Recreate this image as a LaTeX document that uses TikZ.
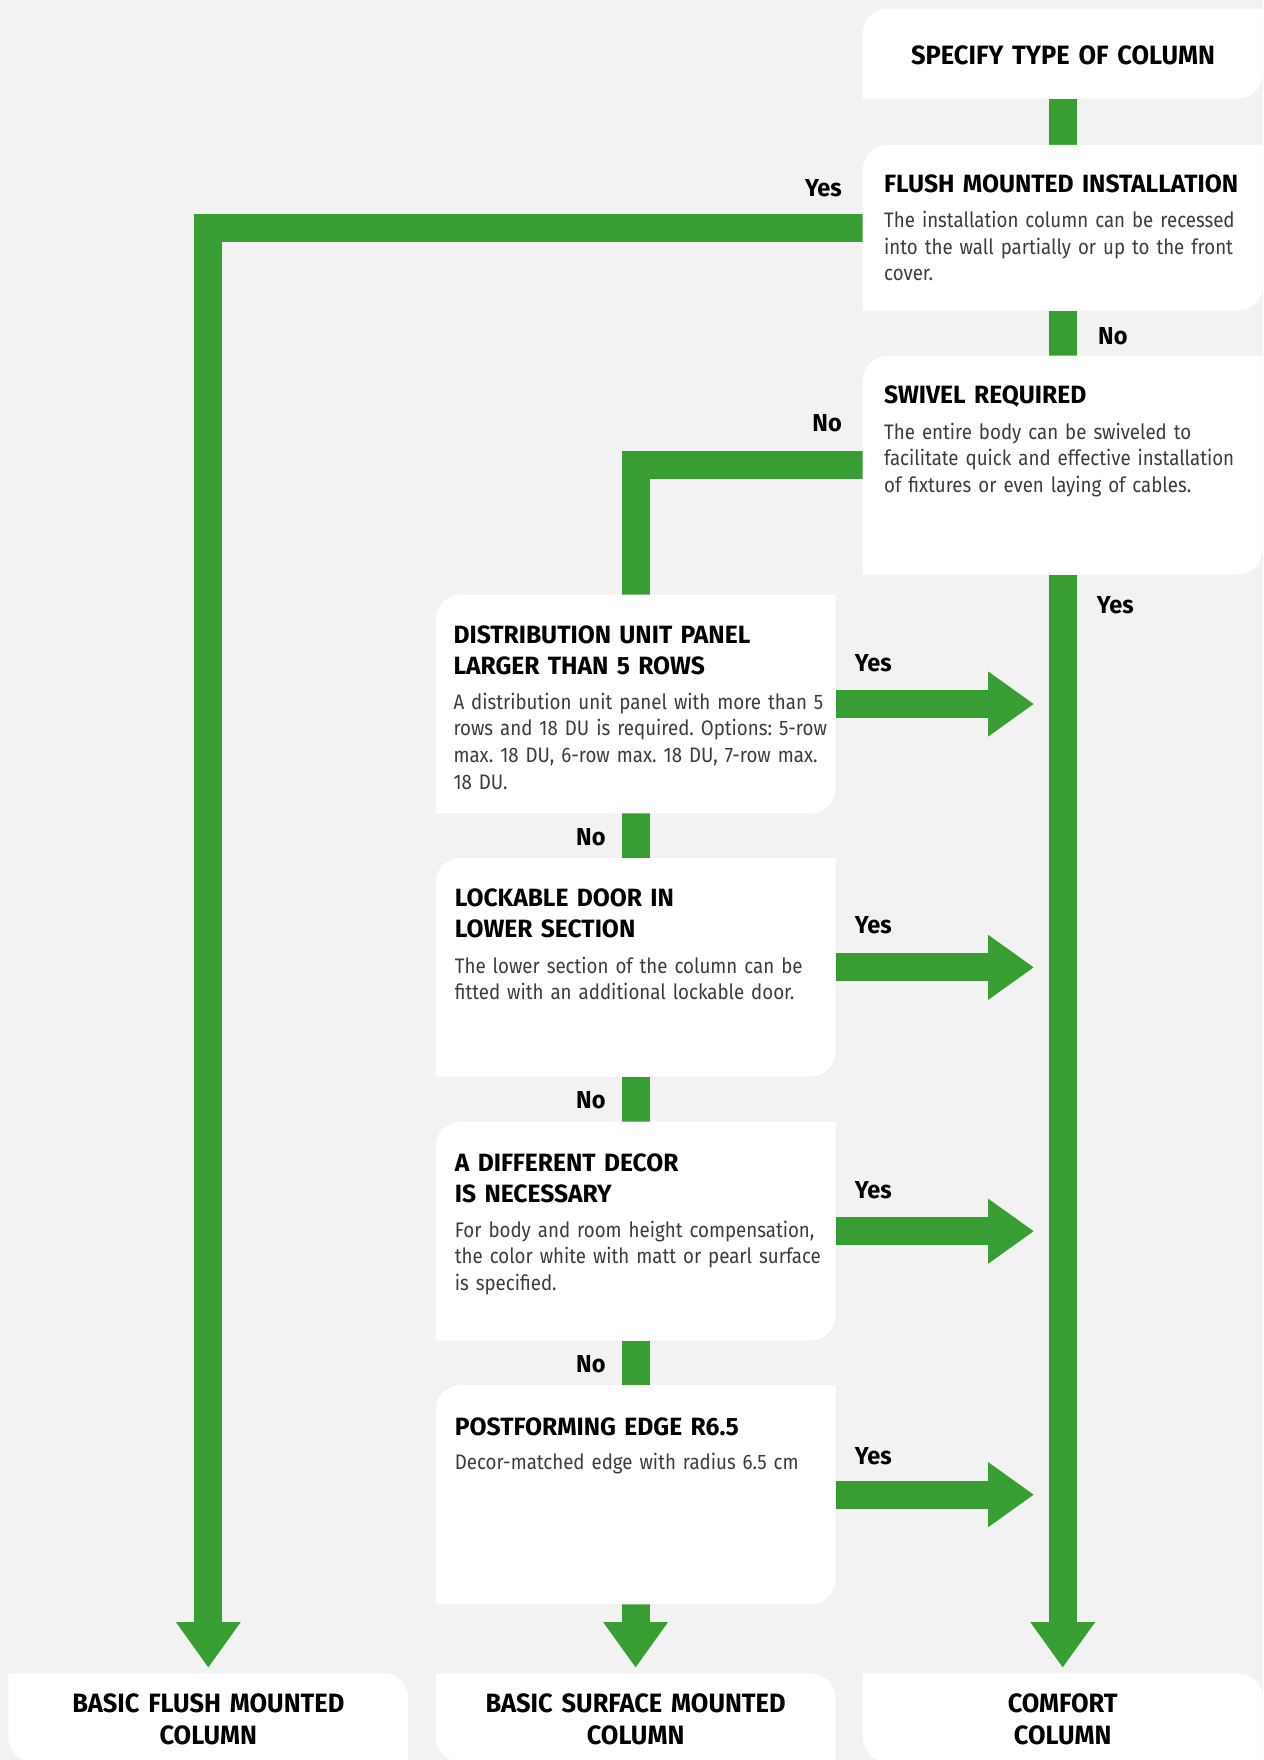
\documentclass[tikz,border=0pt]{standalone}
\usepackage{fontspec}
\setmainfont{Fira Sans}
\newfontfamily\titlefont{Fira Sans}[FakeStretch=0.985]
\newfontfamily\endfont{Fira Sans}[FakeStretch=0.96]
\newfontfamily\bodyfont{Fira Sans}[FakeStretch=0.89,WordSpace=0.75]
\usetikzlibrary{calc}
\definecolor{grn}{RGB}{56,158,52}
\definecolor{bg}{RGB}{242,242,242}
\definecolor{bodytxt}{RGB}{60,60,60}
\newcommand\shapeA[1]{%
  \fill[white] (#1.south west) -- ([yshift=-25pt]#1.north west)
    .. controls ([yshift=-11.2pt]#1.north west) and ([xshift=11.2pt]#1.north west) .. ([xshift=25pt]#1.north west)
    -- (#1.north east) -- ([yshift=25pt]#1.south east)
    .. controls ([yshift=11.2pt]#1.south east) and ([xshift=-11.2pt]#1.south east) .. ([xshift=-25pt]#1.south east)
    -- cycle;}
\newcommand\shapeB[1]{%
  \fill[white] (#1.north west) -- ([xshift=-25pt]#1.north east)
    .. controls ([xshift=-11.2pt]#1.north east) and ([yshift=-11.2pt]#1.north east) .. ([yshift=-25pt]#1.north east)
    -- (#1.south east) -- ([xshift=25pt]#1.south west)
    .. controls ([xshift=11.2pt]#1.south west) and ([yshift=11.2pt]#1.south west) .. ([yshift=25pt]#1.south west)
    -- cycle;}
\tikzset{
  bar/.style={draw=grn, line width=28pt, line cap=butt, line join=miter},
  headfill/.style={fill=grn},
  boxnode/.style={inner sep=0pt, outer sep=0pt, minimum width=400pt, anchor=north west},
  ttl/.style={anchor=base west, inner sep=0pt, text width=390pt, align=left, text=black,
    font=\titlefont\bfseries\fontsize{25}{31.2}\selectfont},
  bdy/.style={anchor=base west, inner sep=0pt, text width=390pt, align=left, text=bodytxt,
    font=\bodyfont\frenchspacing\fontsize{21}{26.6}\selectfont},
  endttl/.style={anchor=base, inner sep=0pt, text width=400pt, align=center, text=black,
    font=\endfont\bfseries\fontsize{26.5}{32.2}\selectfont},
  lbl/.style={inner sep=0pt, text=black, font=\endfont\bfseries\fontsize{24.5}{28}\selectfont},
}
\begin{document}
\begin{tikzpicture}[x=1pt,y=-1pt]
\useasboundingbox (0,0) rectangle (1263,1760);
\fill[bg] (0,0) rectangle (1263,1760);
% box frames (invisible nodes)
\node[boxnode, minimum height=90pt] (top) at (862.7,8.7) {};
\node[boxnode, minimum height=165.7pt] (flush) at (862.7,145) {};
\node[boxnode, minimum height=218.8pt] (swivel) at (862.7,355.7) {};
\node[boxnode, minimum height=218.6pt] (dist) at (435.6,594.7) {};
\node[boxnode, minimum height=218.7pt] (lock) at (435.6,858) {};
\node[boxnode, minimum height=219pt] (decor) at (435.6,1121.7) {};
\node[boxnode, minimum height=219.3pt] (post) at (435.6,1385) {};
\node[boxnode, minimum height=88.7pt] (bflush) at (8.3,1673.3) {};
\node[boxnode, minimum height=88.7pt] (bsurf) at (435.6,1673.3) {};
\node[boxnode, minimum height=88.7pt] (bcomf) at (862.7,1673.3) {};
% connectors
\draw[bar] (top.south) -- (flush.north);
\draw[bar] (flush.south) -- (swivel.north);
\draw[bar] (flush.west) -| ([yshift=50pt]bflush.north);
\fill[headfill] ([yshift=6pt]bflush.north) -- ++(-32.5pt,45.3pt) -- ++(65pt,0pt) -- cycle;
\draw[bar] (swivel.west) -| (dist.north);
\draw[bar] (swivel.south) -- ([yshift=50pt]bcomf.north);
\fill[headfill] ([yshift=6pt]bcomf.north) -- ++(-32.5pt,45.3pt) -- ++(65pt,0pt) -- cycle;
\draw[bar] (dist.south) -- (lock.north);
\draw[bar] (lock.south) -- (decor.north);
\draw[bar] (decor.south) -- (post.north);
\draw[bar] (post.south) -- ([yshift=50pt]bsurf.north);
\fill[headfill] ([yshift=6pt]bsurf.north) -- ++(-32.5pt,45.3pt) -- ++(65pt,0pt) -- cycle;
\foreach \b in {dist,lock,decor,post}{
  \draw[bar] (\b.east) -- ++(153.5pt,0pt);
  \fill[headfill] ([xshift=152.6pt]\b.east) -- ++(0pt,32.5pt) -- ++(45.4pt,-32.5pt) -- ++(-45.4pt,-32.5pt) -- cycle;
}
% boxes
\shapeA{top}\shapeA{flush}\shapeA{swivel}\shapeA{dist}\shapeA{lock}\shapeA{decor}\shapeA{post}
\shapeB{bflush}\shapeB{bsurf}\shapeB{bcomf}
% texts
\node[endttl] (topT) at (1063,65) {SPECIFY TYPE OF COLUMN};
\node[ttl] (flushT) at (884,192.7) {FLUSH MOUNTED INSTALLATION};
\node[bdy] (flushB) at (884,227.7) {The installation column can be recessed\\into the wall partially or up to the front\\cover.};
\node[ttl] (swivelT) at (884,403.3) {SWIVEL REQUIRED};
\node[bdy] (swivelB) at (884,439) {The entire body can be swiveled to\\facilitate quick and effective installation\\of fixtures or even laying of cables.};
\node[ttl] (distT) at (453.3,643.3) {DISTRIBUTION UNIT PANEL\\LARGER THAN 5 ROWS};
\node[bdy] (distB) at (453.3,709.3) {A distribution unit panel with more than 5\\rows and 18 DU is required. Options: 5-row\\max. 18 DU, 6-row max. 18 DU, 7-row max.\\18 DU.};
\node[ttl] (lockT) at (454.7,906) {LOCKABLE DOOR IN\\LOWER SECTION};
\node[bdy] (lockB) at (454.7,973.3) {The lower section of the column can be\\fitted with an additional lockable door.};
\node[ttl] (decorT) at (454.7,1171) {A DIFFERENT DECOR\\IS NECESSARY};
\node[bdy] (decorB) at (454.7,1237.3) {For body and room height compensation,\\the color white with matt or pearl surface\\is specified.};
\node[ttl] (postT) at (454.7,1435) {POSTFORMING EDGE R6.5};
\node[bdy] (postB) at (454.7,1469.3) {Decor-matched edge with radius 6.5 cm};
\node[endttl] (bflushT) at (208.3,1712.7) {BASIC FLUSH MOUNTED\\COLUMN};
\node[endttl] (bsurfT) at (635.6,1712.7) {BASIC SURFACE MOUNTED\\COLUMN};
\node[endttl] (bcomfT) at (1062.7,1712.7) {COMFORT\\COLUMN};
% labels
\node[lbl, anchor=base east] (l1) at (842,197) {Yes};
\node[lbl, anchor=base west] (l2) at (1098,344) {No};
\node[lbl, anchor=base east] (l3) at (842,431.7) {No};
\node[lbl, anchor=base west] (l4) at (1096.7,613.3) {Yes};
\node[lbl, anchor=base west] (l5) at (854.7,671) {Yes};
\node[lbl, anchor=base east] (l6) at (605.7,845.7) {No};
\node[lbl, anchor=base west] (l7) at (854.7,933.3) {Yes};
\node[lbl, anchor=base east] (l8) at (605.7,1108.5) {No};
\node[lbl, anchor=base west] (l9) at (854.7,1198.3) {Yes};
\node[lbl, anchor=base east] (l10) at (605.7,1372.7) {No};
\node[lbl, anchor=base west] (l11) at (854.7,1464) {Yes};
\end{tikzpicture}
\end{document}
